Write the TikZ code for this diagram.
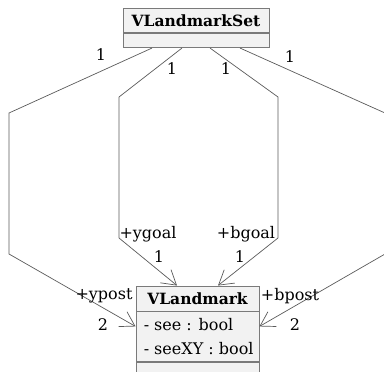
\documentclass[tikz,border=0pt]{standalone}
\usepackage{fontspec}
\setmainfont{DejaVu Serif}
\usetikzlibrary{arrows.meta,calc}
\definecolor{boxfill}{HTML}{F2F2F2}
\definecolor{boxline}{HTML}{7A7A7A}
\definecolor{wire}{HTML}{5A5A5A}
\tikzset{
  classtitle/.style={draw=boxline,fill=boxfill,line width=0.9pt,minimum height=24pt,inner sep=0pt,font=\fontsize{15.5}{17}\selectfont\bfseries},
  compart/.style={draw=boxline,fill=boxfill,line width=0.9pt,inner sep=0pt},
  assoc/.style={draw=wire,line width=0.7pt,-{Straight Barb[length=14pt,width=17pt,line width=0.7pt]}},
  lbl/.style={font=\fontsize{16}{18}\selectfont,inner sep=0pt}
}
\begin{document}
\begin{tikzpicture}[x=1pt,y=-1pt]
\useasboundingbox (0,0) rectangle (384,372);
\clip (0,0) rectangle (384,372);
% VLandmarkSet class
\node[classtitle,minimum width=146pt] (set) at (196,20.3) {VLandmarkSet};
\node[compart,minimum width=146pt,minimum height=14.4pt,anchor=north] (setbody) at (set.south) {};
% VLandmark class (operations compartment runs past the lower edge)
\node[classtitle,minimum width=123pt,minimum height=25pt] (lm) at (197.5,298.5) {VLandmark};
\node[compart,minimum width=123pt,minimum height=50pt,anchor=north] (lmattr) at (lm.south) {};
\node[compart,minimum width=123pt,minimum height=30pt,anchor=north] (lmops) at (lmattr.south) {};
\node[lbl,anchor=west] (a1) at ($(lmattr.north west)+(8,13)$) {- see : bool};
\node[lbl,anchor=west] (a2) at ($(lmattr.north west)+(8,37)$) {- seeXY : bool};
% bend points of the four associations
\coordinate (p1a) at (9,113);   \coordinate (p1b) at (9,254);
\coordinate (p2a) at (119,97);  \coordinate (p2b) at (119,238);
\coordinate (p3a) at (278,97);  \coordinate (p3b) at (278,238);
\coordinate (p4a) at (385,113); \coordinate (p4b) at (385,254);
\draw[assoc] ($(setbody.south)+(-44,0)$) -- (p1a) -- (p1b) -- ($(lmattr.north west)+(0,15)$);
\draw[assoc] ($(setbody.south)+(-14,0)$) -- (p2a) -- (p2b) -- ($(lm.north)+(-20.5,0)$);
\draw[assoc] ($(setbody.south)+(14,0)$) -- (p3a) -- (p3b) -- ($(lm.north)+(20.5,0)$);
\draw[assoc] ($(setbody.south)+(44,0)$) -- (p4a) -- (p4b) -- ($(lmattr.north east)+(0,15)$);
% multiplicities and role names
\node[lbl] (m1) at (101,55) {1};
\node[lbl] (m2) at (172,69) {1};
\node[lbl] (m3) at (226,69) {1};
\node[lbl] (m4) at (290,57) {1};
\node[lbl] (r2) at (148,234) {+ygoal};
\node[lbl] (n2) at (159,257) {1};
\node[lbl] (r3) at (246,234) {+bgoal};
\node[lbl] (n3) at (240,257) {1};
\node[lbl] (r1) at (104,296) {+ypost};
\node[lbl] (n1) at (103,325) {2};
\node[lbl] (r4) at (290,296) {+bpost};
\node[lbl] (n4) at (295,325) {2};
\end{tikzpicture}
\end{document}
